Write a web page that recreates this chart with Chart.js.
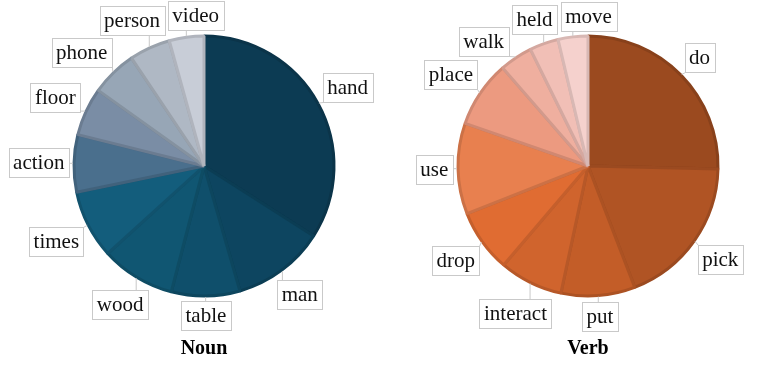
<!DOCTYPE html>
<html>
<head>
<meta charset="utf-8">
<script src="https://cdn.jsdelivr.net/npm/chart.js@4.4.1/dist/chart.umd.min.js"></script>
<style>
  html, body { margin: 0; padding: 0; background: #fff; }
  #wrap { position: relative; width: 761px; height: 366px; }
  .pane { position: absolute; top: 0; height: 366px; }
</style>
</head>
<body>
<div id="wrap">
  <div class="pane" style="left:0;width:380px"><canvas id="nounChart"></canvas></div>
  <div class="pane" style="left:380px;width:381px"><canvas id="verbChart"></canvas></div>
</div>
<script>
// shares in %, read clockwise from 12 o'clock
const nounLabels = ['hand', 'man', 'table', 'wood', 'times', 'action', 'floor', 'phone', 'person', 'video'];
const nounShares = [34.0, 11.5, 8.5, 9.2, 8.5, 7.1, 6.0, 5.7, 5.1, 4.3];
const verbLabels = ['do', 'pick', 'put', 'interact', 'drop', 'use', 'place', 'walk', 'held', 'move'];
const verbShares = [25.4, 18.8, 9.2, 7.9, 7.8, 11.3, 8.3, 4.1, 3.6, 3.7];

const nounColors = ['#0c3b53', '#0d4560', '#0f4f6b', '#105672', '#135d7c', '#4a6f8d', '#7a8da5', '#97a6b6', '#afb8c4', '#c8cdd7'];
const verbColors = ['#9b4a1f', '#b05424', '#c35d28', '#d0642d', '#e06c32', '#e8804f', '#ec9a80', '#efaf9f', '#f1bfb6', '#f5d1cd'];

const R = 130;        // pie radius
const GAP = 5;        // pie edge -> label box
const PAD = 3;        // min space between label boxes
const STEP = 0.004;   // angle nudge when boxes collide

function shade(hex, f) {
  const n = parseInt(hex.slice(1), 16);
  const ch = [(n >> 16) & 255, (n >> 8) & 255, n & 255].map(v => Math.round(v * f));
  return `rgb(${ch.join(',')})`;
}

// place label boxes just outside the pie, nudging colliding ones apart
function spread(items, cx, cy, r) {
  const place = it => {
    const s = Math.sin(it.a), c = Math.cos(it.a);
    const d = r + GAP + it.w / 2 * Math.abs(s) + it.h / 2 * Math.abs(c);
    it.x = cx + s * d;
    it.y = cy - c * d;
  };
  items.forEach(place);
  const hit = (p, q) =>
    Math.abs(p.x - q.x) < (p.w + q.w) / 2 + PAD &&
    Math.abs(p.y - q.y) < (p.h + q.h) / 2 + PAD;
  for (let k = 0; k < 500; k++) {
    let moved = false;
    for (let i = 0; i < items.length; i++) {
      for (let j = i + 1; j < items.length; j++) {
        if (!hit(items[i], items[j])) continue;
        items[i].a -= STEP;
        items[j].a += STEP;
        place(items[i]);
        place(items[j]);
        moved = true;
      }
    }
    if (!moved) break;
  }
}

const calloutPlugin = title => ({
  id: 'callouts',
  afterDatasetsDraw(chart) {
    const ctx = chart.ctx;
    const arcs = chart.getDatasetMeta(0).data;
    const cx = arcs[0].x, cy = arcs[0].y, r = arcs[0].outerRadius;
    ctx.save();
    ctx.font = '21px "Liberation Serif", "Times New Roman", serif';
    const items = arcs.map((arc, i) => {
      const mid = (arc.startAngle + arc.endAngle) / 2 + Math.PI / 2;
      const text = chart.data.labels[i];
      return { text, mid, a: mid, w: Math.round(ctx.measureText(text).width) + 9, h: 29 };
    });
    spread(items, cx, cy, r);

    items.forEach(it => {
      const left = Math.round(it.x - it.w / 2) + 0.5;
      const top = Math.round(it.y - it.h / 2) + 0.5;
      const ex = cx + Math.sin(it.mid) * (r + 1);
      const ey = cy - Math.cos(it.mid) * (r + 1);
      const px = Math.min(Math.max(ex, left), left + it.w);
      const py = Math.min(Math.max(ey, top), top + it.h);
      ctx.strokeStyle = '#c9c9c9';
      ctx.lineWidth = 1;
      ctx.beginPath();
      ctx.moveTo(ex, ey);
      ctx.lineTo(px, py);
      ctx.stroke();
      ctx.fillStyle = '#fff';
      ctx.fillRect(left, top, it.w, it.h);
      ctx.strokeRect(left, top, it.w, it.h);
      ctx.fillStyle = '#111';
      ctx.textAlign = 'center';
      ctx.textBaseline = 'middle';
      ctx.fillText(it.text, it.x, it.y + 1);
    });

    ctx.font = 'bold 20px "Liberation Serif", "Times New Roman", serif';
    ctx.fillStyle = '#000';
    ctx.textAlign = 'center';
    ctx.textBaseline = 'middle';
    ctx.fillText(title, cx, cy + 183);
    ctx.restore();
  }
});

function pieChart(id, labels, values, colors, title, cx, cy) {
  const el = document.getElementById(id);
  const W = el.parentNode.clientWidth, H = 366;
  return new Chart(el, {
    type: 'pie',
    data: {
      labels: labels,
      datasets: [{
        data: values,
        backgroundColor: colors,
        borderColor: colors.map(c => shade(c, 0.88)),
        borderWidth: 3,
        radius: R
      }]
    },
    options: {
      responsive: true,
      maintainAspectRatio: false,
      animation: false,
      layout: { padding: { left: cx - R, right: W - cx - R, top: cy - R, bottom: H - cy - R } },
      plugins: {
        legend: { display: false },
        tooltip: { enabled: false }
      }
    },
    plugins: [calloutPlugin(title)]
  });
}

pieChart('nounChart', nounLabels, nounShares, nounColors, 'Noun', 204, 166);
pieChart('verbChart', verbLabels, verbShares, verbColors, 'Verb', 208, 166);
</script>
</body>
</html>
